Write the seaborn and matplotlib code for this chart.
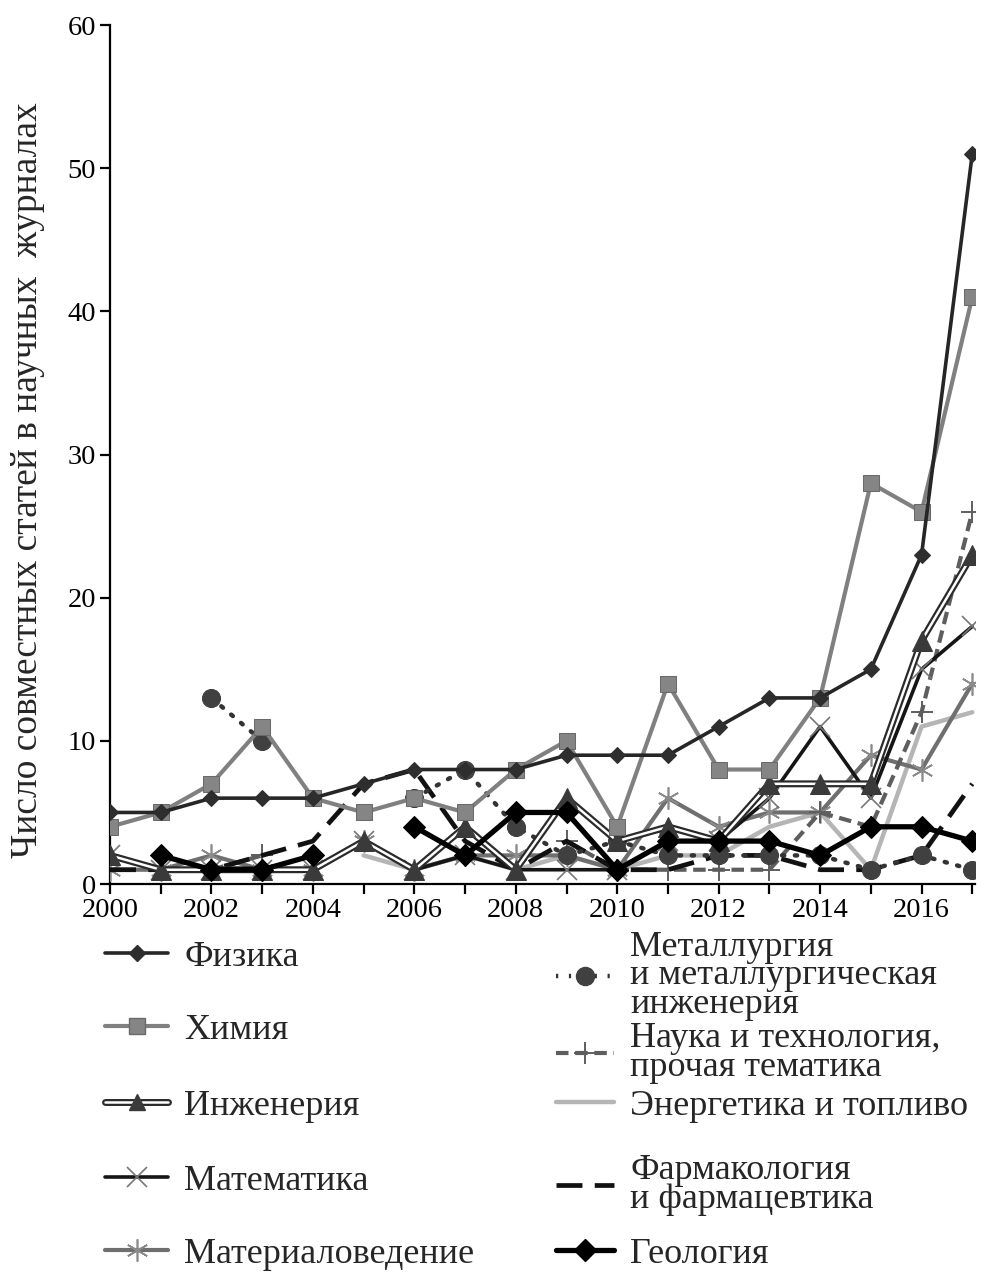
import numpy as np
import pandas as pd
import matplotlib
matplotlib.use('Agg')
import matplotlib.pyplot as plt
from matplotlib.lines import Line2D
import seaborn as sns

nan = np.nan
years = list(range(2000, 2018))

fizika = [5, 5, 6, 6, 6, 7, 8, 8, 8, 9, 9, 9, 11, 13, 13, 15, 23, 51]
himiya = [4, 5, 7, 11, 6, 5, 6, 5, 8, 10, 4, 14, 8, 8, 13, 28, 26, 41]
inzheneriya = [2, 1, 1, 1, 1, 3, 1, 4, 1, 6, 3, 4, 3, 7, 7, 7, 17, 23]
matematika = [2, 1, 1, 1, 1, 3, 1, 2, 1, 1, 1, 3, 3, 6, 11, 6, 15, 18]
materialoved = [1, 1, 2, 1, 1, 3, 1, 2, 2, 2, 1, 6, 4, 5, 5, 9, 8, 14]
metallurgiya = [nan, nan, 13, 10, nan, nan, 6, 8, 4, 2, 3, 2, 2, 2, 2, 1, 2, 1]
nauka = [nan, nan, 1, 2, nan, nan, nan, nan, nan, 3, 1, 1, 1, 1, 5, 4, 12, 26]
energetika = [nan, nan, nan, nan, nan, 2, 1, 2, 1, 2, 1, 2, 2, 4, 5, 1, 11, 12]
farmakologiya = [1, 1, 1, 2, 3, 7, 8, 3, 1, 3, 1, 1, 2, 2, 1, 1, 2, 7]
geologiya = [nan, 2, 1, 1, 2, nan, 4, 2, 5, 5, 1, 3, 3, 3, 2, 4, 4, 3]

sns.set_style('ticks')
plt.rcParams['font.family'] = ['Liberation Serif', 'DejaVu Serif']

fig = plt.figure(figsize=(9.94, 12.79), dpi=100)
ax = fig.add_axes([0.1107, 0.3088, 0.870, 0.6716])


def draw(vals, **kw):
    # split into runs so gaps (nan) stay gaps
    df = pd.DataFrame({'year': years, 'n': vals})
    df['grp'] = df['n'].isna().cumsum()
    for _, part in df.dropna().groupby('grp'):
        sns.lineplot(data=part, x='year', y='n', ax=ax, legend=False, **kw)


# styles
st = {
    'Физика': dict(color='#262626', lw=2.6, marker='D', ms=8, mfc='#2e2e2e', mec='#2e2e2e'),
    'Химия': dict(color='#808080', lw=3.0, marker='s', ms=12, mfc='#858585', mec='#6a6a6a'),
    'Математика': dict(color='#151515', lw=2.6, marker='x', ms=14, mfc='#777777', mec='#777777', mew=1.2),
    'Материаловедение': dict(color='#6f6f6f', lw=3.0, marker=(6, 2, 0), ms=16, mfc='#8a8a8a', mec='#8a8a8a', mew=1.2),
    'Металлургия\nи металлургическая\nинженерия': dict(color='#333333', lw=3.2, ls=(0, (0.5, 2.4)), dash_capstyle='round',
                                                     marker='o', ms=13, mfc='#404040', mec='#404040'),
    'Наука и технология,\nпрочая тематика': dict(color='#5e5e5e', lw=3.0, ls=(0, (3, 1.6)), marker='+', ms=16,
                                                 mec='#5e5e5e', mew=1.4),
    'Энергетика и топливо': dict(color='#b5b5b5', lw=3.2),
    'Фармакология\nи фармацевтика': dict(color='#111111', lw=3.4, ls=(0, (5.5, 2.6))),
    'Геология': dict(color='#000000', lw=3.8, marker='D', ms=11, mfc='#000000', mec='#000000'),
}

draw(energetika, **st['Энергетика и топливо'], zorder=2)
draw(materialoved, **st['Материаловедение'], zorder=3)
draw(nauka, **st['Наука и технология,\nпрочая тематика'], zorder=3)
draw(farmakologiya, **st['Фармакология\nи фармацевтика'], zorder=3)
draw(metallurgiya, **st['Металлургия\nи металлургическая\nинженерия'], zorder=3)
draw(matematika, **st['Математика'], zorder=4)
# double line for engineering
draw(inzheneriya, color='#2a2a2a', lw=5.0, zorder=4)
draw(inzheneriya, color='white', lw=1.8, marker='^', ms=14, mfc='#3a3a3a', mec='#3a3a3a', zorder=4)
draw(geologiya, **st['Геология'], zorder=5)
draw(himiya, **st['Химия'], zorder=5)
draw(fizika, **st['Физика'], zorder=6)

ax.set_xlim(2000, 2017.05)
ax.set_ylim(0, 60)
ax.set_xticks(years)
ax.set_xticklabels([str(y) if y % 2 == 0 else '' for y in years])
ax.set_yticks(range(0, 61, 10))
ax.tick_params(axis='both', labelsize=20.5, length=7, width=1.6, direction='out', colors='black', pad=3)
for s in ['left', 'bottom']:
    ax.spines[s].set_linewidth(1.6)
    ax.spines[s].set_color('black')
sns.despine(ax=ax)
ax.set_xlabel('')
ax.set_ylabel('Число совместных статей в научных  журналах', fontsize=27)
ax.yaxis.set_label_coords(-0.075, 0.47)


def handle(name):
    kw = dict(st[name])
    kw.pop('dash_capstyle', None)
    return Line2D([], [], **kw)


eng_handle = (Line2D([], [], color='#2a2a2a', lw=5.0),
              Line2D([], [], color='white', lw=1.8, marker='^', ms=12, mfc='#3a3a3a', mec='#3a3a3a'))

left_col = [('Физика', handle('Физика'), 957),
            ('Химия', handle('Химия'), 1030),
            ('Инженерия', eng_handle, 1106),
            ('Математика', handle('Математика'), 1181),
            ('Материаловедение', handle('Материаловедение'), 1254)]
right_col = [('Металлургия\nи металлургическая\nинженерия', 976),
             ('Наука и технология,\nпрочая тематика', 1053),
             ('Энергетика и топливо', 1106),
             ('Фармакология\nи фармацевтика', 1185),
             ('Геология', 1254)]

H = 1279.0
for lbl, h, ypx in left_col:
    leg = fig.legend(handles=[h], labels=[lbl], loc='center left',
                     bbox_to_anchor=(105 / 994, 1 - ypx / H), frameon=False,
                     fontsize=26, handlelength=1.75, handletextpad=0.45,
                     borderpad=0, borderaxespad=0, numpoints=1)
for lbl, ypx in right_col:
    leg = fig.legend(handles=[handle(lbl)], labels=[lbl], loc='center left',
                     bbox_to_anchor=(556 / 994, 1 - ypx / H), frameon=False,
                     fontsize=26, handlelength=1.6, handletextpad=0.45,
                     borderpad=0, borderaxespad=0, numpoints=1)
    for t in leg.get_texts():
        t.set_linespacing(0.82)

fig.savefig('out.png', dpi=100)
